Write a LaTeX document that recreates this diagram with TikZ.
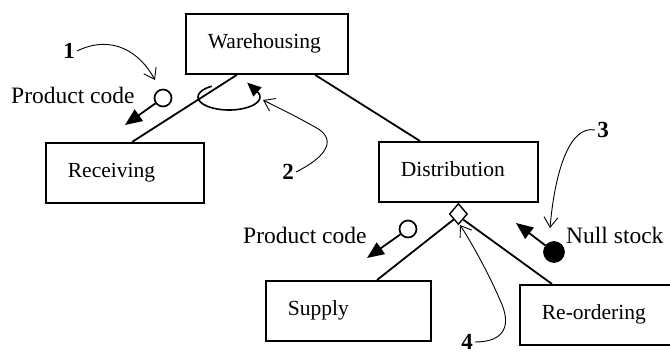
\documentclass[tikz,border=0pt]{standalone}
\usepackage{fontspec}
\setmainfont{Liberation Serif}
\usetikzlibrary{arrows.meta, positioning, shapes.geometric}

\begin{document}
\begin{tikzpicture}[x=1pt, y=-1pt,
  unit/.style={draw, line width=1.8pt, anchor=north west, minimum height=60pt,
    inner xsep=22pt, text height=14pt, text depth=4.5pt, align=left,
    font=\fontsize{21.5}{24}\selectfont},
  link/.style={line width=1.8pt},
  gate/.style={diamond, draw, fill=white, line width=1.4pt, inner sep=0pt,
    minimum width=18pt, minimum height=21pt},
  couple/.style={circle, draw, line width=1.7pt, inner sep=0pt, minimum size=17pt},
  flow/.style={line width=1.8pt, -{Triangle[length=17pt,width=14pt]}},
  lbl/.style={anchor=base west, inner sep=0pt, font=\fontsize{23.5}{26}\selectfont},
  tag/.style={inner sep=2pt, font=\bfseries\fontsize{23}{26}\selectfont},
  callout/.style={line width=0.9pt, -{Straight Barb[length=10pt,width=14pt]}}]
\useasboundingbox (0,0) rectangle (670,354);

% processes
\node[unit, text width=118pt] (warehousing) at (185,13) {Warehousing};
\node[unit, text width=114pt] (receiving) at (45,142) {Receiving};
\node[unit, text width=115pt] (distribution) at (378,141) {Distribution};
\node[unit, text width=121pt] (supply) at (265,280) {Supply};
\node[unit, text width=116pt] (reordering) at (519,284) {Re-ordering};
\node[gate, below=0pt of distribution] (fork) {};

\draw[link] ([xshift=52pt]warehousing.south west) -- ([xshift=87pt]receiving.north west);
\draw[link] ([xshift=130pt]warehousing.south west) -- ([xshift=42pt]distribution.north west);
\draw[link] (fork.south west) -- ([xshift=112pt]supply.north west);
\draw[link] (fork.south east) -- ([xshift=33pt]reordering.north west);

% couples
\node[couple] (code1) at (163,98) {};
\coordinate (code1tip) at (125,125);
\draw[flow] (code1) -- (code1tip);
\node[lbl] (code1lbl) at (11,103) {Product code};

\node[couple] (code2) at (408,229) {};
\coordinate (code2tip) at (367,258);
\draw[flow] (code2) -- (code2tip);
\node[lbl] (code2lbl) at (243,243) {Product code};

\node[couple, fill=black, minimum size=20pt] (stock) at (554,252) {};
\coordinate (stocktip) at (516,223);
\draw[flow] (stock) -- (stocktip);
\node[lbl] (stocklbl) at (566,243) {Null stock};

% iteration loop
\draw[line width=1.6pt, -{Triangle[length=14pt,width=12pt]}]
  (229,97) ++(236:31 and 13) arc[start angle=236, end angle=-20, x radius=31, y radius=13]
  -- ++(-11,-10);

% numbered notes
\node[tag] (n1) at (69,51) {1};
\node[tag] (n2) at (288,172) {2};
\node[tag] (n3) at (603,130) {3};
\node[tag] (n4) at (467,342) {4};
\coordinate (hint1) at (155,80);
\coordinate (hint2) at (263,100);
\coordinate (hint3) at (550,228);
\coordinate (hint4) at (460,225);
\draw[callout] (n1.east) .. controls (112,34) and (140,52) .. (hint1);
\draw[callout] (n2.east) .. controls (330,155) and (336,138) .. (315,127)
  .. controls (295,116) .. (hint2);
\draw[callout] (n3.west) .. controls (570,125) and (555,170) .. (hint3);
\draw[callout] (n4.east) .. controls (505,342) and (512,325) .. (500,300)
  .. controls (488,272) and (470,240) .. (hint4);
\end{tikzpicture}
\end{document}
